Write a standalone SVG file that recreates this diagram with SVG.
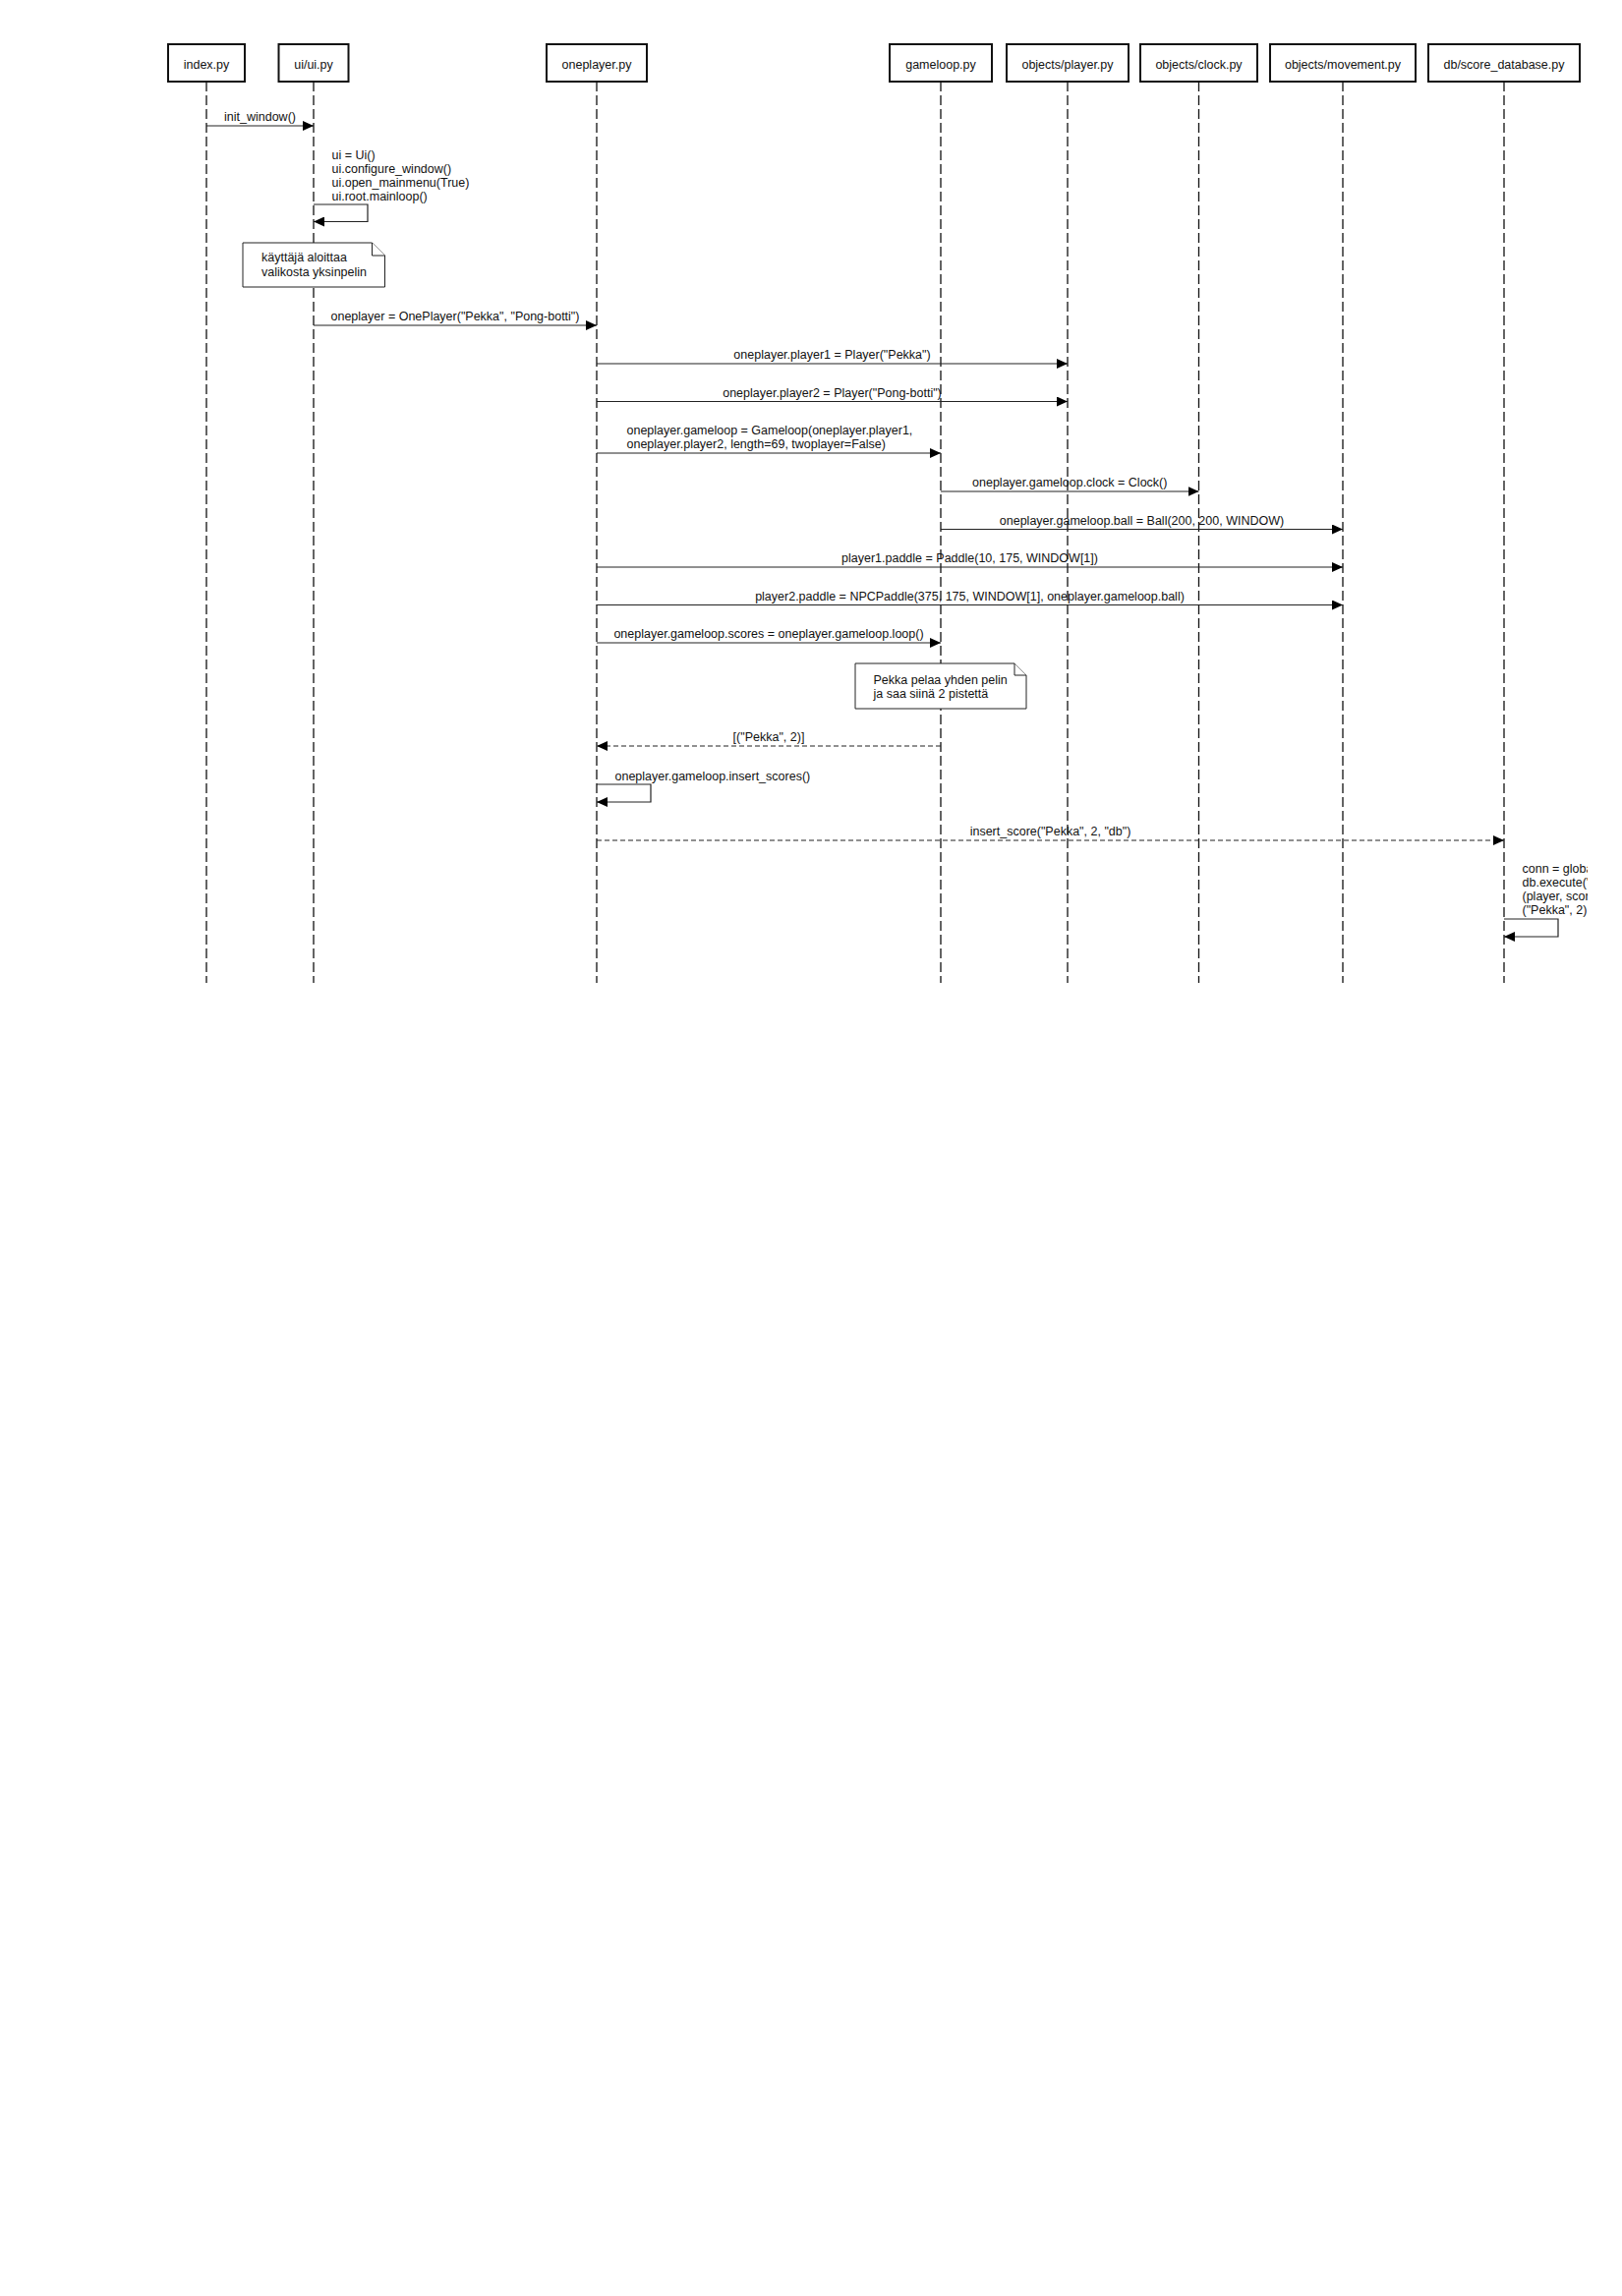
<svg xmlns="http://www.w3.org/2000/svg" width="1650" height="2336" viewBox="0 0 1650 2336">
  <style>
    text { font-family: "Liberation Sans", Arial, sans-serif; font-size: 12.5px; fill: #111; }
    .head { fill: #fff; stroke: #111; stroke-width: 2; }
    .label { text-anchor: middle; }
    .mid { text-anchor: middle; }
    .life { stroke: #111; stroke-width: 1.3; stroke-dasharray: 10 4; fill: none; }
    .msg { stroke: #222; stroke-width: 1.2; fill: none; marker-end: url(#arrow); }
    .ret { stroke: #222; stroke-width: 1.2; fill: none; stroke-dasharray: 5 3; marker-end: url(#arrow); }
    .note { fill: #fff; stroke: #222; stroke-width: 1; }
  </style>
  <defs>
    <marker id="arrow" markerUnits="userSpaceOnUse" markerWidth="11" markerHeight="10" refX="11" refY="5" orient="auto" viewBox="0 0 11 10">
      <path d="M0,0 L11,5 L0,10 Z" fill="#000" stroke="none"/>
    </marker>
    <clipPath id="pageClip">
      <rect x="0" y="0" width="1615" height="2336"/>
    </clipPath>
  </defs>
  <rect x="0" y="0" width="1650" height="2336" fill="#fff"/>

  <!-- participants: head box, name, dashed lifeline -->
  <g id="index">
    <line class="life" x1="210" y1="83" x2="210" y2="1000"/>
    <rect class="head" x="171" y="45" width="78" height="38"/>
    <text class="label" x="210" y="69.5">index.py</text>
  </g>
  <g id="ui">
    <line class="life" x1="319" y1="83" x2="319" y2="1000"/>
    <rect class="head" x="283.5" y="45" width="71" height="38"/>
    <text class="label" x="319" y="69.5">ui/ui.py</text>
  </g>
  <g id="oneplayer">
    <line class="life" x1="607" y1="83" x2="607" y2="1000"/>
    <rect class="head" x="556" y="45" width="102" height="38"/>
    <text class="label" x="607" y="69.5">oneplayer.py</text>
  </g>
  <g id="gameloop">
    <line class="life" x1="957" y1="83" x2="957" y2="1000"/>
    <rect class="head" x="905" y="45" width="104" height="38"/>
    <text class="label" x="957" y="69.5">gameloop.py</text>
  </g>
  <g id="player">
    <line class="life" x1="1086" y1="83" x2="1086" y2="1000"/>
    <rect class="head" x="1024" y="45" width="124" height="38"/>
    <text class="label" x="1086" y="69.5">objects/player.py</text>
  </g>
  <g id="clock">
    <line class="life" x1="1219.5" y1="83" x2="1219.5" y2="1000"/>
    <rect class="head" x="1160" y="45" width="119" height="38"/>
    <text class="label" x="1219.5" y="69.5">objects/clock.py</text>
  </g>
  <g id="movement">
    <line class="life" x1="1366" y1="83" x2="1366" y2="1000"/>
    <rect class="head" x="1292" y="45" width="148" height="38"/>
    <text class="label" x="1366" y="69.5">objects/movement.py</text>
  </g>
  <g id="score_database">
    <line class="life" x1="1530" y1="83" x2="1530" y2="1000"/>
    <rect class="head" x="1453" y="45" width="154" height="38"/>
    <text class="label" x="1530" y="69.5">db/score_database.py</text>
  </g>

  <!-- notes -->
  <g id="note-start">
    <path class="note" d="M247,247 H378.5 L391.5,260 V292 H247 Z"/>
    <path class="note" d="M378.5,247 V260 H391.5" fill="none"/>
    <text x="266" y="265.5">käyttäjä aloittaa</text>
    <text x="266" y="280.5">valikosta yksinpelin</text>
  </g>
  <g id="note-game">
    <path class="note" d="M870,675 H1032 L1044,687 V721 H870 Z"/>
    <path class="note" d="M1032,675 V687 H1044" fill="none"/>
    <text x="888.5" y="695.5">Pekka pelaa yhden pelin</text>
    <text x="888.5" y="710">ja saa siinä 2 pistettä</text>
  </g>

  <!-- messages -->
  <g id="connectors">
    <g id="m-init-window">
      <line class="msg" x1="210" y1="128" x2="319" y2="128"/>
      <text class="mid" x="264.5" y="123">init_window()</text>
    </g>
    <g id="m-ui-setup">
      <text x="337.5" y="162">ui = Ui()</text>
      <text x="337.5" y="176">ui.configure_window()</text>
      <text x="337.5" y="190">ui.open_mainmenu(True)</text>
      <text x="337.5" y="204">ui.root.mainloop()</text>
      <path class="msg" d="M319,208 H374 V225.5 H319"/>
    </g>
    <g id="m-oneplayer">
      <line class="msg" x1="319" y1="331" x2="607" y2="331"/>
      <text class="mid" x="463" y="326">oneplayer = OnePlayer("Pekka", "Pong-botti")</text>
    </g>
    <g id="m-player1">
      <line class="msg" x1="607" y1="370" x2="1086" y2="370"/>
      <text class="mid" x="846.5" y="365">oneplayer.player1 = Player("Pekka")</text>
    </g>
    <g id="m-player2">
      <line class="msg" x1="607" y1="408.5" x2="1086" y2="408.5"/>
      <text class="mid" x="846.5" y="403.5">oneplayer.player2 = Player("Pong-botti")</text>
    </g>
    <g id="m-gameloop">
      <line class="msg" x1="607" y1="461" x2="957" y2="461"/>
      <text x="637.5" y="442">oneplayer.gameloop = Gameloop(oneplayer.player1,</text>
      <text x="637.5" y="456">oneplayer.player2, length=69, twoplayer=False)</text>
    </g>
    <g id="m-clock">
      <line class="msg" x1="957" y1="500" x2="1219.5" y2="500"/>
      <text class="mid" x="1088.25" y="495">oneplayer.gameloop.clock = Clock()</text>
    </g>
    <g id="m-ball">
      <line class="msg" x1="957" y1="538.5" x2="1366" y2="538.5"/>
      <text class="mid" x="1161.5" y="533.5">oneplayer.gameloop.ball = Ball(200, 200, WINDOW)</text>
    </g>
    <g id="m-paddle1">
      <line class="msg" x1="607" y1="577" x2="1366" y2="577"/>
      <text class="mid" x="986.5" y="572">player1.paddle = Paddle(10, 175, WINDOW[1])</text>
    </g>
    <g id="m-paddle2">
      <line class="msg" x1="607" y1="615.5" x2="1366" y2="615.5"/>
      <text class="mid" x="986.5" y="610.5">player2.paddle = NPCPaddle(375, 175, WINDOW[1], oneplayer.gameloop.ball)</text>
    </g>
    <g id="m-loop">
      <line class="msg" x1="607" y1="654" x2="957" y2="654"/>
      <text class="mid" x="782" y="649">oneplayer.gameloop.scores = oneplayer.gameloop.loop()</text>
    </g>
    <g id="m-scores-return">
      <line class="ret" x1="957" y1="759" x2="607" y2="759"/>
      <text class="mid" x="782" y="754">[("Pekka", 2)]</text>
    </g>
    <g id="m-insert-scores">
      <text x="625.5" y="794">oneplayer.gameloop.insert_scores()</text>
      <path class="msg" d="M607,798 H662 V816 H607"/>
    </g>
    <g id="m-insert-score">
      <line class="ret" x1="607" y1="855" x2="1530" y2="855"/>
      <text class="mid" x="1068.5" y="850">insert_score("Pekka", 2, "db")</text>
    </g>
    <g id="m-db-execute">
      <g clip-path="url(#pageClip)">
        <text x="1548.5" y="888">conn = globa</text>
        <text x="1548.5" y="902">db.execute('</text>
        <text x="1548.5" y="916">(player, scor</text>
        <text x="1548.5" y="930">("Pekka", 2)</text>
      </g>
      <path class="msg" d="M1530,935 H1585 V953 H1530"/>
    </g>
  </g>
</svg>
